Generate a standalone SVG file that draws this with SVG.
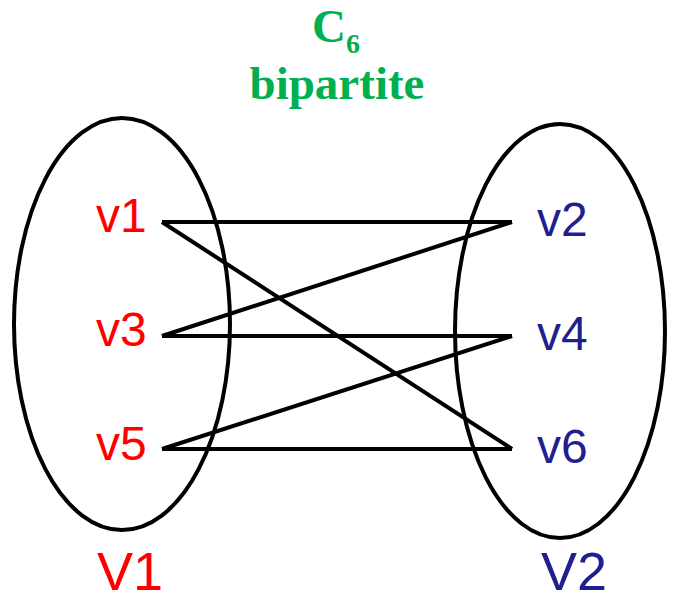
<svg xmlns="http://www.w3.org/2000/svg" width="677" height="602" viewBox="0 0 677 602">
<style>
.set{fill:none;stroke:#000;stroke-width:4}
.edge{stroke:#000;stroke-width:4;stroke-linecap:butt}
.l{font-family:"Liberation Sans",Arial,sans-serif;font-size:48px;fill:#ff0000}
.r{font-family:"Liberation Sans",Arial,sans-serif;font-size:48px;fill:#1f1f8f}
.big{font-size:54px}
.t{font-family:"Liberation Serif","Times New Roman",serif;font-weight:bold;fill:#00b050}
</style>
<rect width="677" height="602" fill="#fff"/>
<g id="title">
<text class="t" x="312" y="42" font-size="47">C<tspan font-size="28" dy="11">6</tspan></text>
<text class="t" x="337" y="99" font-size="47" text-anchor="middle">bipartite</text>
</g>
<g id="setV1">
<ellipse class="set" cx="122" cy="324" rx="108" ry="206"/>
<text class="l big" x="97" y="590">V1</text>
</g>
<g id="setV2">
<ellipse class="set" cx="560" cy="331" rx="105" ry="207"/>
<text class="r big" x="541" y="590">V2</text>
</g>
<g id="connectors">
<line class="edge" x1="162" y1="222" x2="512" y2="222"/>
<line class="edge" x1="162" y1="222" x2="512" y2="449"/>
<line class="edge" x1="162" y1="336" x2="512" y2="222"/>
<line class="edge" x1="162" y1="336" x2="512" y2="336"/>
<line class="edge" x1="162" y1="449" x2="512" y2="336"/>
<line class="edge" x1="162" y1="449" x2="512" y2="449"/>
</g>
<g id="v1"><text class="l" x="96" y="232">v1</text></g>
<g id="v3"><text class="l" x="96" y="346">v3</text></g>
<g id="v5"><text class="l" x="96" y="460">v5</text></g>
<g id="v2"><text class="r" x="537" y="236">v2</text></g>
<g id="v4"><text class="r" x="537" y="350">v4</text></g>
<g id="v6"><text class="r" x="537" y="463">v6</text></g>
</svg>
